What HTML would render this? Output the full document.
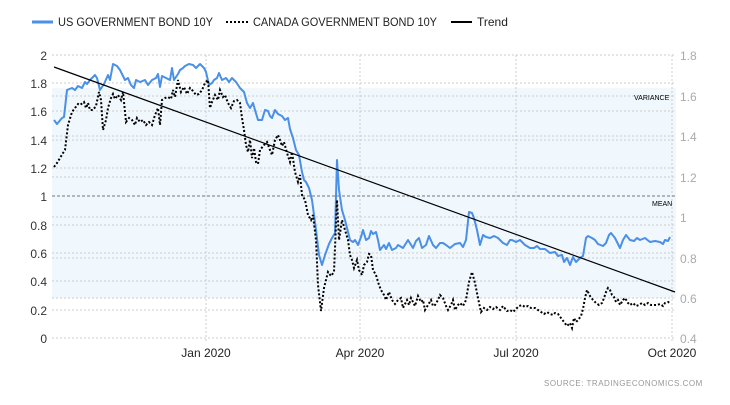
<!DOCTYPE html>
<html><head><meta charset="utf-8"><style>
body{margin:0;background:#fff;}
svg text{font-family:"Liberation Sans",sans-serif;}
</style></head><body>
<svg width="730" height="400" viewBox="0 0 730 400" xmlns="http://www.w3.org/2000/svg">
<rect x="52" y="88" width="624" height="210" fill="#f0f7fd"/>
<g stroke="#ccc" stroke-dasharray="2,2" stroke-width="1">
<line x1="52" y1="55" x2="676" y2="55"/><line x1="52" y1="83" x2="676" y2="83"/>
<line x1="52" y1="111" x2="676" y2="111"/><line x1="52" y1="140" x2="676" y2="140"/>
<line x1="52" y1="168" x2="676" y2="168"/>
<line x1="52" y1="225" x2="676" y2="225"/><line x1="52" y1="253" x2="676" y2="253"/>
<line x1="52" y1="281" x2="676" y2="281"/><line x1="52" y1="310" x2="676" y2="310"/>
<line x1="52" y1="338" x2="676" y2="338"/>
<line x1="52" y1="96" x2="676" y2="96"/><line x1="52" y1="136" x2="676" y2="136"/>
<line x1="52" y1="177" x2="676" y2="177"/><line x1="52" y1="217" x2="676" y2="217"/>
<line x1="52" y1="258" x2="676" y2="258"/><line x1="52" y1="298" x2="676" y2="298"/>
<line x1="206" y1="55" x2="206" y2="342"/><line x1="360" y1="55" x2="360" y2="342"/>
<line x1="516" y1="55" x2="516" y2="342"/><line x1="672" y1="55" x2="672" y2="342"/>
</g>
<line x1="52" y1="196" x2="676" y2="196" stroke="#777" stroke-dasharray="3,2"/>
<text x="634" y="100" font-size="7" fill="#000">VARIANCE</text>
<text x="652" y="206" font-size="7" fill="#000">MEAN</text>
<g font-size="12" fill="#333" text-anchor="end">
<text x="47" y="60">2</text><text x="47" y="88">1.8</text><text x="47" y="116">1.6</text>
<text x="47" y="145">1.4</text><text x="47" y="173">1.2</text><text x="47" y="201">1</text>
<text x="47" y="230">0.8</text><text x="47" y="258">0.6</text><text x="47" y="286">0.4</text>
<text x="47" y="315">0.2</text><text x="47" y="343">0</text>
</g>
<g font-size="12" fill="#aaa">
<text x="680" y="60">1.8</text><text x="680" y="101">1.6</text><text x="680" y="141">1.4</text>
<text x="680" y="182">1.2</text><text x="680" y="222">1</text><text x="680" y="263">0.8</text>
<text x="680" y="303">0.6</text><text x="680" y="343">0.4</text>
</g>
<g font-size="12" fill="#222" text-anchor="middle">
<text x="206" y="357">Jan 2020</text><text x="360" y="357">Apr 2020</text>
<text x="516" y="357">Jul 2020</text><text x="672" y="357">Oct 2020</text>
</g>
<text x="544" y="386" font-size="8" fill="#999" letter-spacing="0.5">SOURCE:  TRADINGECONOMICS.COM</text>
<polyline fill="none" stroke="#4a8fe8" stroke-width="2" stroke-linejoin="round" points="54,120 57,124 62,118 64,117 67,90 72,88 75,90 78,86 82,88 85,82 87,84 90,80 95,75 97,78 100,90 104,84 108,75 110,80 113,64 117,66 120,70 125,80 128,78 131,85 134,88 136,80 140,82 145,80 148,85 152,80 156,78 158,74 160,87 162,76 166,78 170,80 172,68 174,80 178,74 180,70 183,68 185,66 189,64 193,65 196,68 200,64 204,68 206,72 209,85 212,83 214,80 217,78 219,73 222,80 226,78 229,82 232,78 236,82 240,88 244,92 247,103 250,108 253,103 255,110 258,120 262,120 265,110 268,111 270,116 272,118 275,110 278,114 282,116 285,120 288,118 290,129 293,138 296,150 299,155 302,172 304,180 306,182 309,188 312,200 316,230 319,255 322,265 325,255 329,244 332,238 335,233 337,160 339,190 342,210 345,220 348,232 350,240 353,242 355,240 358,245 361,237 363,230 366,240 369,238 371,231 373,234 376,232 378,240 380,250 384,245 386,249 389,243 392,250 396,248 398,245 403,248 408,240 413,248 416,241 419,238 422,248 426,245 429,236 433,245 436,248 440,243 443,243 446,245 450,248 455,244 460,243 463,247 466,240 469,212 472,213 474,218 477,230 480,245 483,235 486,237 490,238 494,236 498,238 503,243 507,245 510,240 512,240 516,242 520,240 525,245 530,248 534,248 537,246 540,249 545,249 550,253 555,252 558,256 562,255 564,262 567,258 570,265 573,257 576,262 580,258 583,256 586,238 588,236 592,238 595,240 598,244 603,246 606,243 609,235 611,233 615,238 620,248 623,240 626,235 630,240 634,241 637,238 640,240 645,238 650,242 655,241 660,242 663,244 665,240 668,241 670,237"/>
<polyline fill="none" stroke="#000" stroke-width="2" stroke-dasharray="2,2" points="54,167 57,163 60,158 63,153 65,150 68,125 72,112 75,108 78,104 80,105 84,102 86,108 88,103 90,110 93,110 96,106 99,92 101,100 103,130 106,120 108,108 111,98 113,94 115,99 118,95 121,100 123,92 126,122 129,118 132,120 135,125 137,118 140,122 143,120 146,125 149,122 152,125 155,115 158,108 160,125 162,100 165,98 168,97 171,99 173,90 175,97 178,80 181,92 184,87 187,94 190,88 193,91 196,95 199,94 202,90 205,83 208,80 210,108 212,102 215,95 218,100 220,90 223,97 225,95 228,103 231,108 234,101 237,100 240,103 242,118 244,130 246,145 248,152 250,140 252,158 254,148 256,162 258,164 260,150 264,145 267,142 270,150 272,155 275,140 278,135 280,140 282,146 284,142 287,153 290,162 292,152 295,172 298,182 300,175 302,195 305,200 308,215 311,220 313,215 316,240 318,285 321,311 324,288 328,272 331,276 334,272 337,200 339,240 342,220 345,230 348,240 350,255 352,260 354,268 357,260 359,270 362,275 364,265 367,262 369,254 371,255 373,270 376,275 379,285 381,290 384,295 386,300 389,292 392,300 395,304 398,300 401,298 403,308 407,300 409,305 411,298 415,306 418,296 421,302 423,300 425,310 428,305 431,300 433,306 435,305 438,300 440,295 443,298 446,306 448,310 451,305 453,300 455,310 458,305 460,303 463,306 466,300 469,282 472,272 475,283 478,298 481,312 484,308 487,310 490,307 493,309 496,307 500,310 503,306 507,311 510,310 513,312 516,309 519,306 522,305 525,307 528,306 531,308 535,308 538,310 541,312 544,314 547,312 550,314 553,315 555,313 558,314 561,318 564,322 567,326 570,323 572,328 574,318 576,322 578,320 581,316 583,309 585,298 587,290 590,296 593,300 596,303 599,305 602,303 604,298 606,292 608,288 610,290 612,295 614,297 616,302 618,300 620,305 623,300 625,298 628,303 630,305 633,303 636,306 639,305 642,303 645,305 648,303 651,305 654,305 657,305 660,304 663,306 665,303 668,302 670,303"/>
<line x1="54" y1="67" x2="675" y2="292" stroke="#000" stroke-width="1.2"/>
<line x1="32" y1="22" x2="53" y2="22" stroke="#4a8fe8" stroke-width="3"/>
<text x="58" y="26" font-size="12" fill="#222" textLength="155" lengthAdjust="spacingAndGlyphs">US GOVERNMENT BOND 10Y</text>
<line x1="226" y1="22" x2="248" y2="22" stroke="#000" stroke-width="2" stroke-dasharray="2,2"/>
<text x="253" y="26" font-size="12" fill="#222" textLength="184" lengthAdjust="spacingAndGlyphs">CANADA GOVERNMENT BOND 10Y</text>
<line x1="451" y1="22" x2="472" y2="22" stroke="#000" stroke-width="2"/>
<text x="477" y="26" font-size="12" fill="#222">Trend</text>
</svg>
</body></html>
